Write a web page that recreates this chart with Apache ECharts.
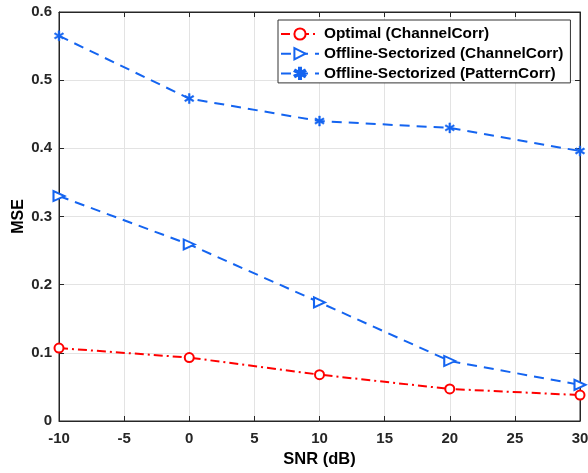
<!DOCTYPE html>
<html><head><meta charset="utf-8">
<script src="https://cdn.jsdelivr.net/npm/echarts@6/dist/echarts.min.js"></script>
<style>html,body{margin:0;padding:0;background:#fff}#c{width:588px;height:473px}</style>
</head><body><div id="c"></div>
<script>
const snr = [-10, 0, 10, 20, 30];
const optimalChannel = [0.107, 0.093, 0.068, 0.047, 0.038];
const sectorChannel = [0.330, 0.259, 0.174, 0.088, 0.053];
const sectorPattern = [0.565, 0.473, 0.440, 0.430, 0.396];
const seriesNames = ['Optimal (ChannelCorr)', 'Offline-Sectorized (ChannelCorr)', 'Offline-Sectorized (PatternCorr)'];
const xTicks = [-10, -5, 0, 5, 10, 15, 20, 25, 30];
const yTicks = [0, 0.1, 0.2, 0.3, 0.4, 0.5, 0.6];

const RED = '#ff0000', BLUE = '#1464f0', AX = '#262626';
const FONT = 'Liberation Sans, Arial, Helvetica, sans-serif';
const asterisk = 'path://M-1,-6H1V6H-1Z M-5.696,-2.134L-4.696,-3.866L5.696,2.134L4.696,3.866Z M-4.696,3.866L-5.696,2.134L4.696,-3.866L5.696,-2.134Z';

function pairs(ys){ return snr.map((x,i)=>[x, ys[i]]); }

const chart = echarts.init(document.getElementById('c'), null, {renderer:'canvas'});
const axisCommon = {
  axisLine:{show:true, onZero:false, lineStyle:{color:AX, width:1}},
  axisTick:{show:true, inside:true, length:5, lineStyle:{color:AX}},
};
chart.setOption({
  animation:false,
  backgroundColor:'#fff',
  grid:{left:59, right:8, top:12, bottom:52, containLabel:false, outerBoundsMode:'none',
    show:true, borderColor:AX, borderWidth:1, backgroundColor:'transparent'},
  xAxis:[{
    type:'value', min:xTicks[0], max:xTicks[xTicks.length-1], interval:5,
    name:'SNR (dB)', nameLocation:'middle', nameGap:30, nameMoveOverlap:false,
    nameTextStyle:{fontFamily:FONT, fontWeight:'bold', fontSize:16.5, color:'#000'},
    ...axisCommon,
    axisLabel:{fontFamily:FONT, fontWeight:'bold', fontSize:15, color:'#262626', margin:10},
    splitLine:{show:true, lineStyle:{color:'#e3e3e3', width:1}}
  },{
    type:'value', position:'top', min:-10, max:30, interval:5,
    ...axisCommon, axisLabel:{show:false}, splitLine:{show:false}
  }],
  yAxis:[{
    type:'value', min:yTicks[0], max:yTicks[yTicks.length-1], interval:0.1,
    name:'MSE', nameLocation:'middle', nameGap:32, nameMoveOverlap:false,
    nameTextStyle:{fontFamily:FONT, fontWeight:'bold', fontSize:16, color:'#000'},
    ...axisCommon,
    axisLabel:{fontFamily:FONT, fontWeight:'bold', fontSize:15, color:'#262626', margin:7,
      formatter:v=>String(Math.round(v*10)/10)},
    splitLine:{show:true, lineStyle:{color:'#e3e3e3', width:1}}
  },{
    type:'value', position:'right', min:0, max:0.6, interval:0.1,
    ...axisCommon, axisLabel:{show:false}, splitLine:{show:false}
  }],
  legend:{
    orient:'vertical', left:278, top:20,
    backgroundColor:'#fff', borderColor:'#333', borderWidth:1,
    padding:[6.5,7,2,2], itemGap:4.7, itemWidth:38, itemHeight:14,
    textStyle:{fontFamily:FONT, fontWeight:'bold', fontSize:15.4, color:'#000'},
    data:seriesNames
  },
  series:[{
    name:seriesNames[0], type:'line', data:pairs(optimalChannel),
    symbol:'circle', symbolSize:9, showAllSymbol:true,
    lineStyle:{color:RED, width:2, type:[9,4,2,4]},
    itemStyle:{color:'#fff', borderColor:RED, borderWidth:2},
    z:3
  },{
    name:seriesNames[1], type:'line', data:pairs(sectorChannel),
    symbol:'triangle', symbolSize:[10,11], symbolRotate:-90,
    lineStyle:{color:BLUE, width:2, type:[10,7]},
    itemStyle:{color:'#fff', borderColor:BLUE, borderWidth:2},
    z:3
  },{
    name:seriesNames[2], type:'line', data:pairs(sectorPattern),
    symbol:asterisk, symbolSize:10, symbolKeepAspect:true,
    lineStyle:{color:BLUE, width:2, type:[10,7]},
    itemStyle:{color:BLUE, borderColor:BLUE, borderWidth:0.5},
    z:3
  }]
});
</script></body></html>
